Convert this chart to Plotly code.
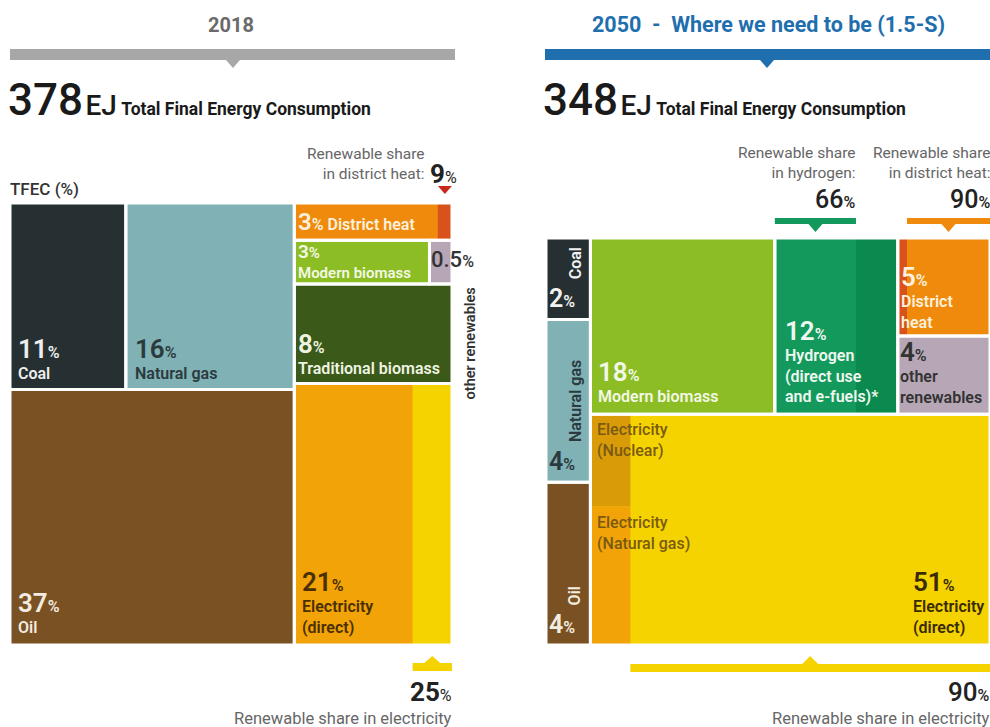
import plotly.graph_objects as go

W, H = 990, 727

# ------------------------------------------------------------------ data
tfec_2018 = 378          # EJ
tfec_2050 = 348          # EJ

fossil_labels = ["Coal", "Natural gas", "Oil"]
fossil_2018 = [11, 16, 37]            # % of TFEC
fossil_2050 = [2, 4, 4]               # % of TFEC

col_labels_2018 = ["District heat", "Modern biomass", "other renewables",
                   "Traditional biomass", "Electricity (direct)"]
col_2018 = [3, 3, 0.5, 8, 21]         # % of TFEC

top_labels_2050 = ["Modern biomass", "Hydrogen (direct use and e-fuels)*",
                   "District heat", "other renewables"]
top_2050 = [18, 12, 5, 4]             # % of TFEC
elec_2050 = 51                        # % of TFEC

elec_nonren_labels_2050 = ["Electricity (Nuclear)", "Electricity (Natural gas)"]
elec_nonren_split_2050 = [4, 6]       # % of electricity

ren_dh_2018 = 9       # renewable share in district heat (%)
ren_el_2018 = 25      # renewable share in electricity (%)
ren_h2_2050 = 66      # renewable share in hydrogen (%)
ren_dh_2050 = 90      # renewable share in district heat (%)
ren_el_2050 = 90      # renewable share in electricity (%)

# ------------------------------------------------------------------ style
FONT = "Roboto"
C = dict(coal="#263033", gas="#80b1b4", oil="#7a5123", dh="#ef8a0c",
         dh_strip="#d9521c", mb="#8cbd24", other="#b7a7b6", trad="#3b5918",
         el_fossil="#f1a307", el_ren="#f5d300", nuclear="#d99c08",
         h2_ren="#13995c", h2_other="#0b8a4f", grey="#a7a7a7", blue="#1f6fae",
         text="#666666", dark="#222222")
GS = 15.5   # grey caption size


def px_x(p):
    return p / W


def px_y(p):
    return 1 - p / H


fig = go.Figure()
shapes, anns = [], []


def rect(ax, r, color):
    x0, x1, y0, y1 = r
    xa, ya = ax
    fig.add_trace(go.Scatter(x=[x0, x1, x1, x0, x0], y=[y0, y0, y1, y1, y0],
                             fill="toself", fillcolor=color, mode="lines",
                             line=dict(color=color, width=0), hoverinfo="skip",
                             xaxis=xa, yaxis=ya, showlegend=False))


def outline(ax, r):
    x0, x1, y0, y1 = r
    xa, ya = ax
    fig.add_trace(go.Scatter(x=[x0, x1, x1, x0, x0], y=[y0, y0, y1, y1, y0],
                             mode="lines", line=dict(color="white", width=3),
                             hoverinfo="skip", xaxis=xa, yaxis=ya, showlegend=False))


def text(xref, yref, x, y, t, color, xanchor="left", yanchor="bottom",
         xshift=0, yshift=0, size=15, align="left", angle=0, weight="normal"):
    anns.append(dict(xref=xref, yref=yref, x=x, y=y, text=t, showarrow=False,
                     xanchor=xanchor, yanchor=yanchor, xshift=xshift, yshift=yshift,
                     align=align, textangle=angle,
                     font=dict(family=FONT, size=size, color=color, weight=weight)))


def label(xref, yref, x, y, t, color, **kw):
    kw.setdefault("weight", 600)
    kw.setdefault("size", 16)
    text(xref, yref, x, y, t, color, **kw)


def pct(v, big=26):
    return f"<span style='font-size:{big}px'>{v:g}</span>%"


def tri(xref, cx, ypx, color, down=True, hw=7, h=8):
    p = f"M {-hw},0 L {hw},0 L 0,{-h if down else h} Z"
    shapes.append(dict(type="path", xref=xref, yref="paper", xsizemode="pixel",
                       ysizemode="pixel", xanchor=cx, yanchor=px_y(ypx), path=p,
                       fillcolor=color, line=dict(width=0)))


def bar(xref, x0, x1, ytop, ybot, color):
    shapes.append(dict(type="rect", xref=xref, yref="paper", x0=x0, x1=x1,
                       y0=px_y(ybot), y1=px_y(ytop), fillcolor=color, line=dict(width=0)))


# ------------------------------------------------------------------ 2018 layout (unit square, y downwards)
A1 = ("x", "y")
tot18 = sum(fossil_2018) + sum(col_2018)
fw = sum(fossil_2018) / tot18
top_h = (fossil_2018[0] + fossil_2018[1]) / sum(fossil_2018)
coal_w = fw * fossil_2018[0] / (fossil_2018[0] + fossil_2018[1])
r_coal = (0, coal_w, 0, top_h)
r_gas = (coal_w, fw, 0, top_h)
r_oil = (0, fw, top_h, 1)

csum = sum(col_2018)
h_dh = col_2018[0] / csum
h_mb = (col_2018[1] + col_2018[2]) / csum
h_tb = col_2018[3] / csum
mb_x1 = fw + (1 - fw) * col_2018[1] / (col_2018[1] + col_2018[2])
r_dh = (fw, 1, 0, h_dh)
r_mb = (fw, mb_x1, h_dh, h_dh + h_mb)
r_or = (mb_x1, 1, h_dh, h_dh + h_mb)
r_tb = (fw, 1, h_dh + h_mb, h_dh + h_mb + h_tb)
r_el = (fw, 1, h_dh + h_mb + h_tb, 1)
dh_ren_x0 = 1 - (1 - fw) * ren_dh_2018 / 100
el_ren_x0 = 1 - (1 - fw) * ren_el_2018 / 100

for r, c in [(r_coal, C["coal"]), (r_gas, C["gas"]), (r_oil, C["oil"]), (r_dh, C["dh"]),
             (r_mb, C["mb"]), (r_or, C["other"]), (r_tb, C["trad"]), (r_el, C["el_fossil"])]:
    rect(A1, r, c)
rect(A1, (dh_ren_x0, 1, r_dh[2], r_dh[3]), C["dh_strip"])
rect(A1, (el_ren_x0, 1, r_el[2], r_el[3]), C["el_ren"])
for r in [r_coal, r_gas, r_oil, r_dh, r_mb, r_or, r_tb, r_el]:
    outline(A1, r)

label("x", "y", r_coal[0], r_coal[3], f"{pct(fossil_2018[0])}<br>{fossil_labels[0]}", "#eeeeee",
      xshift=6, yshift=4)
label("x", "y", r_gas[0], r_gas[3], f"{pct(fossil_2018[1])}<br>{fossil_labels[1]}", "#2b3a3e",
      xshift=7, yshift=4)
label("x", "y", r_oil[0], r_oil[3], f"{pct(fossil_2018[2])}<br>{fossil_labels[2]}", "#f3ece0",
      xshift=6, yshift=6)
label("x", "y", r_dh[0], (r_dh[2] + r_dh[3]) / 2, f"{pct(col_2018[0], 24)} {col_labels_2018[0]}",
      "#fdf0dc", yanchor="middle", xshift=2)
label("x", "y", r_mb[0], r_mb[3], f"{pct(col_2018[1], 19)}<br>{col_labels_2018[1]}", "#f3f8e6",
      xshift=2, yshift=0, size=15)
label("x", "y", r_or[0], r_or[2], pct(col_2018[2], 22), "#333333", yanchor="top",
      xshift=0, yshift=-5, weight=500)
label("x", "y", 1, r_or[3], col_labels_2018[2], "#333333", xanchor="left", yanchor="top",
      xshift=8, yshift=-2, size=14.5, angle=-90)
label("x", "y", r_tb[0], r_tb[3], f"{pct(col_2018[3])}<br>{col_labels_2018[3]}", "#eef4e2",
      xshift=2, yshift=4)
label("x", "y", r_el[0], r_el[3], f"{pct(col_2018[4])}<br>Electricity<br>(direct)", "#4a3000",
      xshift=6, yshift=6)

# renewable share markers 2018
dh_c = (dh_ren_x0 + 1) / 2
tri("x", dh_c, 186, "#c8281e", hw=7, h=8)
text("x", "paper", dh_c, px_y(174), f"<b>{ren_dh_2018}</b>" + "<span style='font-size:16px'>%</span>",
     C["dark"], xanchor="center", yanchor="middle", size=26, xshift=-1)
text("x", "paper", dh_c, px_y(164), "Renewable share<br>in district heat:", C["text"],
     xanchor="right", yanchor="middle", align="right", size=GS, xshift=-19)

bar("x", el_ren_x0, 1, 663, 671, C["el_ren"])
tri("x", (el_ren_x0 + 1) / 2, 663, C["el_ren"], down=False, hw=8, h=7)
text("x", "paper", 1, px_y(692), f"<b>{ren_el_2018}</b><span style='font-size:16px'>%</span>",
     C["dark"], xanchor="right", yanchor="middle", size=26, xshift=2)
text("x", "paper", 1, px_y(718), "Renewable share in electricity", C["text"],
     xanchor="right", yanchor="middle", size=16.5, xshift=2)

# ------------------------------------------------------------------ 2050 layout
A2 = ("x2", "y2")
tot50 = sum(fossil_2050) + sum(top_2050) + elec_2050
fw2 = sum(fossil_2050) / tot50
fsum = sum(fossil_2050)
yc = [0, fossil_2050[0] / fsum, (fossil_2050[0] + fossil_2050[1]) / fsum, 1]
r2_f = [(0, fw2, yc[i], yc[i + 1]) for i in range(3)]
rest = 1 - fw2
top_h2 = sum(top_2050) / (sum(top_2050) + elec_2050)
tsum = sum(top_2050)
x_mb1 = fw2 + rest * top_2050[0] / tsum
x_h21 = x_mb1 + rest * top_2050[1] / tsum
y_dh1 = top_h2 * top_2050[2] / (top_2050[2] + top_2050[3])
r2_mb = (fw2, x_mb1, 0, top_h2)
r2_h2 = (x_mb1, x_h21, 0, top_h2)
r2_dh = (x_h21, 1, 0, y_dh1)
r2_or = (x_h21, 1, y_dh1, top_h2)
r2_el = (fw2, 1, top_h2, 1)
h2_ren_x1 = x_mb1 + (x_h21 - x_mb1) * ren_h2_2050 / 100
dh_nr_x1 = x_h21 + (1 - x_h21) * (100 - ren_dh_2050) / 100
el_nr_x1 = fw2 + rest * (100 - ren_el_2050) / 100
y_nuc1 = top_h2 + (1 - top_h2) * elec_nonren_split_2050[0] / sum(elec_nonren_split_2050)
r2_nuc = (fw2, el_nr_x1, top_h2, y_nuc1)
r2_eg = (fw2, el_nr_x1, y_nuc1, 1)

for r, c in zip(r2_f, [C["coal"], C["gas"], C["oil"]]):
    rect(A2, r, c)
for r, c in [(r2_mb, C["mb"]), (r2_h2, C["h2_other"]), (r2_dh, C["dh"]),
             (r2_or, C["other"]), (r2_el, C["el_ren"])]:
    rect(A2, r, c)
rect(A2, (x_mb1, h2_ren_x1, 0, top_h2), C["h2_ren"])
rect(A2, (x_h21, dh_nr_x1, 0, y_dh1), C["dh_strip"])
rect(A2, r2_nuc, C["nuclear"])
rect(A2, r2_eg, C["el_fossil"])
for r in r2_f + [r2_mb, r2_h2, r2_dh, r2_or, r2_el]:
    outline(A2, r)

fcols = ["#f2f2f2", "#2b3a3e", "#f3ece0"]
for r, lab, v, c in zip(r2_f, fossil_labels, fossil_2050, fcols):
    label("x2", "y2", r[0], r[3], pct(v, 25), c, xshift=1, yshift=4)
    label("x2", "y2", r[1], r[3], lab, c, xanchor="right", yanchor="bottom",
          xshift=-4, yshift=38, angle=-90)

label("x2", "y2", r2_mb[0], r2_mb[3], f"{pct(top_2050[0])}<br>{top_labels_2050[0]}", "#f3f8e6",
      xshift=6, yshift=6)
label("x2", "y2", r2_h2[0], r2_h2[3], f"{pct(top_2050[1])}<br>Hydrogen<br>(direct use<br>and e-fuels)*",
      "#eef8f0", xshift=8, yshift=6)
label("x2", "y2", r2_dh[0], r2_dh[3], f"{pct(top_2050[2])}<br>District<br>heat", "#fdf0dc",
      xshift=1, yshift=2)
label("x2", "y2", r2_or[0], r2_or[3], f"{pct(top_2050[3])}<br>other<br>renewables", "#333333",
      xshift=0, yshift=5)
label("x2", "y2", r2_nuc[0], r2_nuc[2], "Electricity<br>(Nuclear)", "#7a5a12",
      yanchor="top", xshift=5, yshift=-4, weight=500)
label("x2", "y2", r2_eg[0], r2_eg[2], "Electricity<br>(Natural gas)", "#7a5a12",
      yanchor="top", xshift=5, yshift=-4, weight=500)
label("x2", "y2", 1, r2_el[3], f"{pct(elec_2050)}<br>Electricity<br>(direct)", "#3a2a00",
      xanchor="right", xshift=-4, yshift=6)

# renewable share markers 2050
bar("x2", x_mb1, h2_ren_x1, 218, 224, C["h2_ren"])
tri("x2", (x_mb1 + h2_ren_x1) / 2, 224, C["h2_ren"], hw=7, h=8)
text("x2", "paper", h2_ren_x1, px_y(163), "Renewable share<br>in hydrogen:", C["text"],
     xanchor="right", yanchor="middle", align="right", size=GS, xshift=1)
text("x2", "paper", h2_ren_x1, px_y(200), f"{ren_h2_2050}<span style='font-size:16px'>%</span>",
     C["dark"], xanchor="right", yanchor="middle", size=25, xshift=1, weight=500)

bar("x2", dh_nr_x1, 1, 218, 224, C["dh"])
tri("x2", (dh_nr_x1 + 1) / 2, 224, C["dh"], hw=7, h=8)
text("x2", "paper", 1, px_y(163), "Renewable share<br>in district heat:", C["text"],
     xanchor="right", yanchor="middle", align="right", size=GS, xshift=2)
text("x2", "paper", 1, px_y(200), f"{ren_dh_2050}<span style='font-size:16px'>%</span>",
     C["dark"], xanchor="right", yanchor="middle", size=25, xshift=2, weight=500)

bar("x2", el_nr_x1, 1, 664, 672, C["el_ren"])
tri("x2", (el_nr_x1 + 1) / 2, 664, C["el_ren"], down=False, hw=8, h=8)
text("x2", "paper", 1, px_y(692), f"{ren_el_2050}<span style='font-size:16px'>%</span>",
     C["dark"], xanchor="right", yanchor="middle", size=26, xshift=2, weight=500)
text("x2", "paper", 1, px_y(718), "Renewable share in electricity", C["text"],
     xanchor="right", yanchor="middle", size=16.5, xshift=2)

# ------------------------------------------------------------------ headers
shapes.append(dict(type="rect", xref="paper", yref="paper", x0=px_x(10), x1=px_x(455),
                   y0=px_y(60), y1=px_y(49), fillcolor=C["grey"], line=dict(width=0)))
shapes.append(dict(type="path", xref="paper", yref="paper", xsizemode="pixel", ysizemode="pixel",
                   xanchor=px_x(233), yanchor=px_y(60), path="M -7,0 L 7,0 L 0,-8 Z",
                   fillcolor=C["grey"], line=dict(width=0)))
shapes.append(dict(type="rect", xref="paper", yref="paper", x0=px_x(545), x1=px_x(990),
                   y0=px_y(60), y1=px_y(49), fillcolor=C["blue"], line=dict(width=0)))
shapes.append(dict(type="path", xref="paper", yref="paper", xsizemode="pixel", ysizemode="pixel",
                   xanchor=px_x(767), yanchor=px_y(60), path="M -7,0 L 7,0 L 0,-8 Z",
                   fillcolor=C["blue"], line=dict(width=0)))

text("paper", "paper", px_x(231), px_y(25), "2018", "#6a6a6a", xanchor="center",
     yanchor="middle", size=20, weight="bold")
text("paper", "paper", px_x(768), px_y(25), "2050  -  Where we need to be (1.5-S)", C["blue"],
     xanchor="center", yanchor="middle", size=21.5, weight="bold")

for xp, v in [(6, tfec_2018), (541, tfec_2050)]:
    text("paper", "paper", px_x(xp), px_y(72),
         f"<span style='font-size:44px'>{v}</span><span style='font-size:10px'> </span>"
         f"<span style='font-size:28px'>EJ</span> <b>Total Final Energy Consumption</b>",
         "#1a1a1a", xanchor="left", yanchor="top", size=17.5, weight=500)

text("paper", "paper", px_x(8), px_y(189), "TFEC (%)", "#333333", xanchor="left",
     yanchor="middle", size=17, weight=500)

# ------------------------------------------------------------------ axes
ax_common = dict(visible=False, fixedrange=True, showgrid=False, zeroline=False)
fig.update_layout(
    width=W, height=H, margin=dict(l=0, r=0, t=0, b=0),
    paper_bgcolor="white", plot_bgcolor="white", showlegend=False,
    xaxis=dict(domain=[px_x(10), px_x(452)], range=[0, 1], anchor="y", **ax_common),
    yaxis=dict(domain=[px_y(645), px_y(203)], range=[1, 0], anchor="x", **ax_common),
    xaxis2=dict(domain=[px_x(546), px_x(990)], range=[0, 1], anchor="y2", **ax_common),
    yaxis2=dict(domain=[px_y(645), px_y(238)], range=[1, 0], anchor="x2", **ax_common),
    shapes=shapes, annotations=anns,
    font=dict(family=FONT),
)

fig.write_html("out.html")
